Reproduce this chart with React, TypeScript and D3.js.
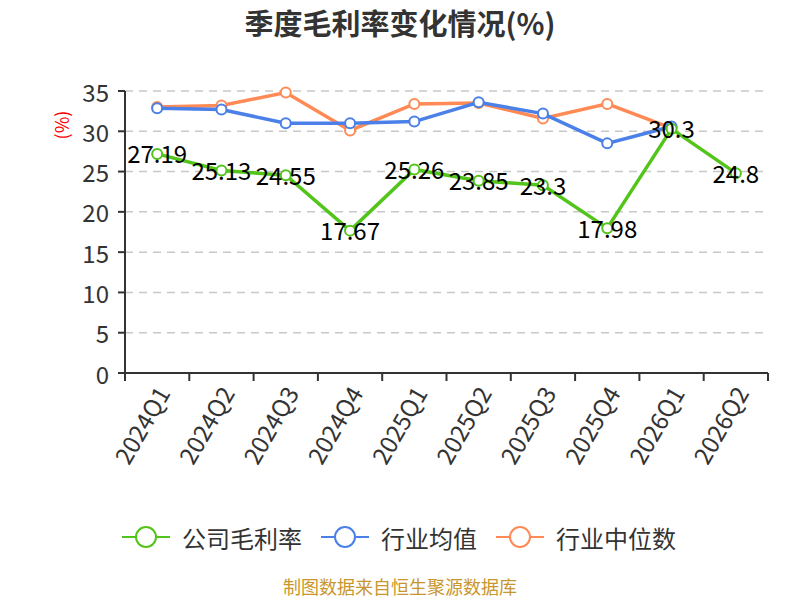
import React from 'react';
import * as d3 from 'd3';

const quarters = ['2024Q1', '2024Q2', '2024Q3', '2024Q4', '2025Q1', '2025Q2', '2025Q3', '2025Q4', '2026Q1', '2026Q2'];
const companyMargin = [27.19, 25.13, 24.55, 17.67, 25.26, 23.85, 23.3, 17.98, 30.3, 24.8];
const industryMean: (number | null)[] = [32.85, 32.7, 31.0, 31.0, 31.2, 33.6, 32.2, 28.5, 30.6, null];
const industryMedian: (number | null)[] = [33.0, 33.2, 34.8, 30.1, 33.4, 33.5, 31.6, 33.4, 30.4, null];
const yTicks = [0, 5, 10, 15, 20, 25, 30, 35];

const FONT = '"Noto Sans CJK SC", "Noto Sans", sans-serif';
const GREEN = '#52c41a';
const BLUE = '#4a80e8';
const ORANGE = '#ff8a55';

const series = [
  { name: '公司毛利率', values: companyMargin as (number | null)[], color: GREEN },
  { name: '行业均值', values: industryMean, color: BLUE },
  { name: '行业中位数', values: industryMedian, color: ORANGE },
];

const LEGEND_FONT = 24;

const App: React.FC = () => {
  const width = 800;
  const height = 600;
  const margin = { top: 91, right: 32, bottom: 227, left: 125 };

  const x = d3
    .scaleBand<string>()
    .domain(quarters)
    .range([margin.left, width - margin.right]);
  const y = d3.scaleLinear().domain([0, 35]).range([height - margin.bottom, margin.top]);

  const cx = (q: string) => x(q)! + x.bandwidth() / 2;

  const line = d3
    .line<number | null>()
    .defined((d) => d !== null)
    .x((_, i) => cx(quarters[i]))
    .y((d) => y(d as number));

  const boundaries = [...quarters.map((q) => x(q)!), x.range()[1]];

  // legend items laid out one after another
  let cursor = 122;
  const legendItems = series.map((s) => {
    const item = { ...s, lx: cursor };
    cursor += 48 + 12 + s.name.length * LEGEND_FONT + 19;
    return item;
  });

  return (
    <div style={{ position: 'fixed', left: 0, top: 0 }}>
      <svg width={width} height={height} style={{ display: 'block', fontFamily: FONT }}>
        <rect width={width} height={height} fill="#fff" />

        {/* title */}
        <text x={400} y={35} textAnchor="middle" fontSize={29} fontWeight="bold" fill="#333">
          季度毛利率变化情况(%)
        </text>

        {/* y axis label */}
        <text
          transform={`translate(69,${125}) rotate(-90)`}
          textAnchor="middle"
          fontSize={18}
          fill="#ff0000"
        >
          (%)
        </text>

        {/* grid */}
        {yTicks
          .filter((t) => t > 0)
          .map((t) => (
            <line
              key={`g${t}`}
              x1={margin.left}
              x2={width - margin.right}
              y1={y(t)}
              y2={y(t)}
              stroke="#c8c8c8"
              strokeWidth={1.5}
              strokeDasharray="8,6"
            />
          ))}

        {/* y axis */}
        <line x1={margin.left} x2={margin.left} y1={y(35)} y2={y(0)} stroke="#333" strokeWidth={2} />
        {yTicks.map((t) => (
          <g key={`y${t}`}>
            <line x1={margin.left - 7} x2={margin.left} y1={y(t)} y2={y(t)} stroke="#333" strokeWidth={2} />
            <text
              x={margin.left - 16}
              y={y(t)}
              textAnchor="end"
              dominantBaseline="central"
              fontSize={24}
              fill="#333"
            >
              {t}
            </text>
          </g>
        ))}

        {/* x axis */}
        <line x1={margin.left} x2={width - margin.right} y1={y(0)} y2={y(0)} stroke="#333" strokeWidth={2} />
        {boundaries.map((b, i) => (
          <line key={`xt${i}`} x1={b} x2={b} y1={y(0)} y2={y(0) + 8} stroke="#333" strokeWidth={2} />
        ))}
        {quarters.map((q) => (
          <text
            key={`xl${q}`}
            transform={`translate(${cx(q) + 5},${y(0) + 15}) rotate(-60)`}
            textAnchor="end"
            dominantBaseline="central"
            fontSize={24}
            fill="#333"
          >
            {q}
          </text>
        ))}

        {/* lines (draw median, mean, then company) */}
        {[...series].reverse().map((s) => (
          <g key={s.name}>
            <path d={line(s.values) ?? ''} fill="none" stroke={s.color} strokeWidth={3.5} />
            {s.values.map((v, i) =>
              v === null ? null : (
                <circle
                  key={i}
                  cx={cx(quarters[i])}
                  cy={y(v)}
                  r={5}
                  fill="#fff"
                  stroke={s.color}
                  strokeWidth={2}
                />
              )
            )}
          </g>
        ))}

        {/* data labels */}
        {companyMargin.map((v, i) => (
          <text
            key={`dl${i}`}
            x={cx(quarters[i])}
            y={y(v) - 1}
            textAnchor="middle"
            dominantBaseline="central"
            fontSize={24}
            fill="#000"
          >
            {v}
          </text>
        ))}

        {/* legend */}
        {legendItems.map((s) => {
          const ly = 537;
          return (
            <g key={`lg${s.name}`}>
              <line x1={s.lx} x2={s.lx + 48} y1={ly} y2={ly} stroke={s.color} strokeWidth={2} />
              <circle cx={s.lx + 24} cy={ly} r={10} fill="#fff" stroke={s.color} strokeWidth={2} />
              <text x={s.lx + 60} y={ly} dominantBaseline="central" fontSize={LEGEND_FONT} fill="#333">
                {s.name}
              </text>
            </g>
          );
        })}

        {/* source */}
        <text x={400} y={594} textAnchor="middle" fontSize={18} fill="#c8962d">
          制图数据来自恒生聚源数据库
        </text>
      </svg>
    </div>
  );
};

export default App;
